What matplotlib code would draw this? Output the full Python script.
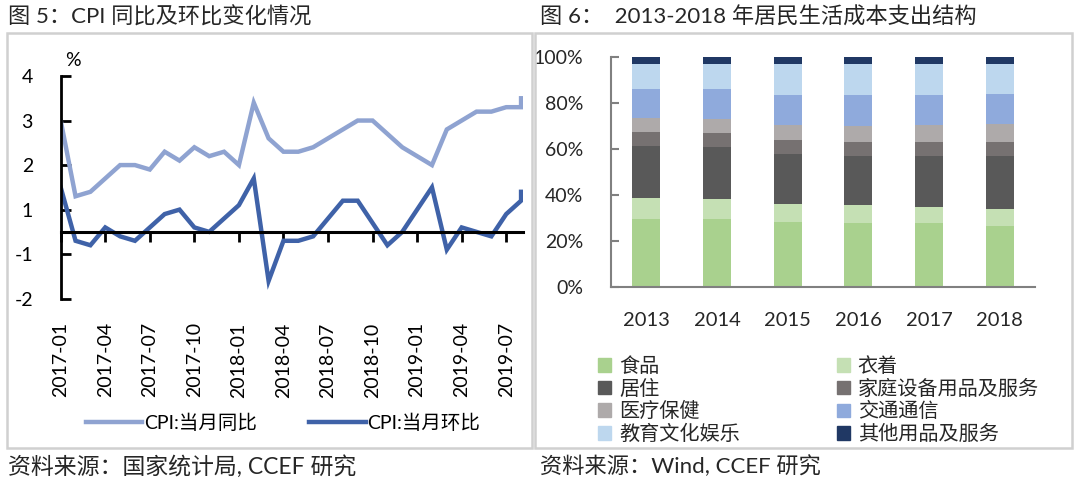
import numpy as np
import matplotlib
matplotlib.use('Agg')
import matplotlib.pyplot as plt
from matplotlib.patches import Rectangle, Patch

plt.rcParams['font.family'] = ['Lato', 'Noto Sans CJK SC', 'DejaVu Sans']

# ---- 图5 CPI data (2017-01 .. 2019-09) ----
months = ['2017-%02d' % m for m in range(1, 13)] + \
    ['2018-%02d' % m for m in range(1, 13)] + ['2019-%02d' % m for m in range(1, 10)]
cpi_yoy = [2.5, 0.8, 0.9, 1.2, 1.5, 1.5, 1.4, 1.8, 1.6, 1.9, 1.7, 1.8,
           1.5, 2.9, 2.1, 1.8, 1.8, 1.9, 2.1, 2.3, 2.5, 2.5, 2.2, 1.9,
           1.7, 1.5, 2.3, 2.5, 2.7, 2.7, 2.8, 2.8, 3.0]
cpi_mom = [1.0, -0.2, -0.3, 0.1, -0.1, -0.2, 0.1, 0.4, 0.5, 0.1, 0.0, 0.3,
           0.6, 1.2, -1.1, -0.2, -0.2, -0.1, 0.3, 0.7, 0.7, 0.2, -0.3, 0.0,
           0.5, 1.0, -0.4, 0.1, 0.0, -0.1, 0.4, 0.7, 0.9]
y_tick_pos = [3.5, 2.5, 1.5, 0.5, -0.5, -1.5]
y_tick_lab = ['4', '3', '2', '1', '-1', '-2']

# ---- 图6 spending structure (%) ----
years = ['2013', '2014', '2015', '2016', '2017', '2018']
cats = ['食品', '衣着', '居住', '家庭设备用品及服务', '医疗保健', '交通通信', '教育文化娱乐', '其他用品及服务']
shares = {
    '食品':         [29.7, 29.6, 28.3, 28.1, 27.8, 26.8],
    '衣着':         [9.0, 8.7, 7.9, 7.7, 7.3, 7.1],
    '居住':         [22.7, 22.6, 21.8, 21.4, 22.1, 23.3],
    '家庭设备用品及服务': [6.0, 6.1, 6.1, 6.1, 6.1, 6.1],
    '医疗保健':     [6.1, 6.2, 6.5, 6.8, 7.3, 7.7],
    '交通通信':     [12.7, 13.0, 13.0, 13.5, 13.0, 13.1],
    '教育文化娱乐': [10.9, 10.9, 13.5, 13.5, 13.5, 13.0],
    '其他用品及服务': [2.9, 2.9, 2.9, 2.9, 2.9, 2.9],
}
colors = ['#a9d18e', '#c5e0b4', '#595959', '#767171', '#aeaaaa', '#8faadc', '#bdd7ee', '#203864']

fig = plt.figure(figsize=(10.8, 4.84), dpi=100)
W, H = 1080, 484

# frames and titles
for x0, x1 in [(7, 532), (535, 1072)]:
    fig.add_artist(Rectangle((x0 / W, 1 - 448 / H), (x1 - x0) / W, (448 - 33) / H,
                             transform=fig.transFigure, fill=False, edgecolor='#d0d0d0', lw=1.8))
fig.text(8 / W, 1 - 17 / H, '图 5：CPI 同比及环比变化情况', fontsize=16, va='center', color='#262626')
fig.text(540 / W, 1 - 17 / H, '图 6：  2013-2018 年居民生活成本支出结构', fontsize=16, va='center', color='#262626')
fig.text(8 / W, 1 - 466 / H, '资料来源：国家统计局, CCEF 研究', fontsize=16.5, va='center', color='#262626')
fig.text(540 / W, 1 - 466 / H, '资料来源：Wind, CCEF 研究', fontsize=16, va='center', color='#262626')

# ---------- left chart ----------
ax = fig.add_axes([60.7 / W, 1 - 298.7 / H, (523 - 60.7) / W, (298.7 - 76) / H])
# the last observation (2019-09) sits on the 2019-08 slot of the month axis
x = np.minimum(np.arange(len(months)), len(months) - 2)
ax.plot(x, cpi_yoy, color='#8fa3d1', lw=3.2, solid_joinstyle='miter', label='CPI:当月同比')
ax.plot(x, cpi_mom, color='#3f62a8', lw=3.2, solid_joinstyle='miter', label='CPI:当月环比')
ax.set_xlim(0, 31.13)
ax.set_ylim(-1.5, 3.5)
for s in ['top', 'right']:
    ax.spines[s].set_visible(False)
ax.spines['left'].set_linewidth(2)
ax.spines['bottom'].set_position(('data', 0))
ax.spines['bottom'].set_linewidth(2.2)
xt = list(range(0, 31, 3))
ax.set_xticks(xt)
ax.tick_params(axis='x', direction='out', length=7, width=2, labelbottom=False)
ax.set_yticks(y_tick_pos, y_tick_lab)
ax.tick_params(axis='y', direction='in', length=7, width=2, pad=20, labelsize=14)
sec = ax.secondary_xaxis('bottom')
sec.set_xticks(xt, [months[i] for i in xt], rotation=90, fontsize=14)
sec.tick_params(length=0, pad=17)
sec.spines['bottom'].set_visible(False)
fig.text(73 / W, 1 - 61 / H, '%', fontsize=14, ha='center', va='center')
fig.legend(handles=ax.get_lines(), loc='center', bbox_to_anchor=(283 / W, 1 - 423 / H),
           ncol=2, frameon=False, fontsize=14, handlelength=2.9, handletextpad=0.1,
           columnspacing=2.7, borderpad=0)

# ---------- right chart ----------
ax2 = fig.add_axes([611 / W, 1 - 287.3 / H, 424 / W, (287.3 - 57.3) / H])
pos = np.arange(len(years))
bottom = np.zeros(len(years))
handles = []
for c, col in zip(cats, colors):
    v = np.array(shares[c])
    ax2.bar(pos, v, 0.4, bottom=bottom, color=col)
    bottom += v
    handles.append(Patch(color=col, label=c))
ax2.set_xlim(-0.5, 5.5)
ax2.set_ylim(0, 100)
ax2.set_yticks([0, 20, 40, 60, 80, 100], ['0%', '20%', '40%', '60%', '80%', '100%'])
ax2.set_xticks(pos, years)
for s in ['top', 'right']:
    ax2.spines[s].set_visible(False)
for s in ['left', 'bottom']:
    ax2.spines[s].set_color('#808080')
    ax2.spines[s].set_linewidth(1.5)
ax2.tick_params(axis='y', direction='in', length=6, width=1.5, color='#808080', labelsize=14, pad=20, labelcolor='#262626')
ax2.tick_params(axis='x', length=0, labelsize=14.5, pad=18, labelcolor='#262626')
# legend reads row by row, matplotlib fills column by column
order = [0, 2, 4, 6, 1, 3, 5, 7]
fig.legend(handles=[handles[i] for i in order], loc='upper left', bbox_to_anchor=(588 / W, 1 - 346 / H),
           ncol=2, frameon=False, fontsize=14.5, handlelength=0.65, handleheight=0.65,
           handletextpad=0.4, columnspacing=4.8, labelspacing=0.18, borderpad=0,
           labelcolor='#262626')

fig.savefig('out.png', dpi=100)
